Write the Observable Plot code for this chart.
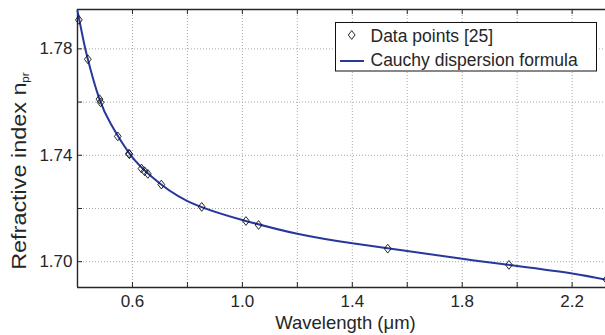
<!DOCTYPE html>
<html><head><meta charset="utf-8">
<script src="https://cdn.jsdelivr.net/npm/d3@7"></script>
<script src="https://cdn.jsdelivr.net/npm/@observablehq/plot@0.6"></script>
<style>
body{margin:0;background:#fff;}
#chart{position:relative;width:605px;height:335px;overflow:hidden;}
</style>
</head><body><div id="chart"></div>
<script>
// Data points (wavelength in µm, refractive index)
const pointWavelength = [0.405, 0.4375, 0.480, 0.484, 0.5465, 0.587, 0.589, 0.633, 0.644, 0.656, 0.705, 0.852, 1.013, 1.059, 1.529, 1.970, 2.325];
const pointIndex      = [1.7909, 1.7761, 1.7611, 1.7599, 1.7471, 1.7406, 1.7404, 1.7350, 1.7340, 1.7330, 1.7290, 1.7206, 1.7153, 1.7138, 1.7049, 1.6988, 1.6933];
// Cauchy dispersion curve
const curveWavelength = [0.400, 0.420, 0.436, 0.479, 0.520, 0.546, 0.594, 0.667, 0.80, 1.0, 1.2, 1.4, 1.6, 1.8, 2.0, 2.2, 2.33];
const curveIndex      = [1.7943, 1.7840, 1.7768, 1.7614, 1.7520, 1.7474, 1.7400, 1.7322, 1.7228, 1.7157, 1.7105, 1.7069, 1.7040, 1.7011, 1.6984, 1.6956, 1.6931];
// Ticks
const xTickLabels = [0.6, 1.0, 1.4, 1.8, 2.2];
const xGridTicks = [0.4, 0.6, 0.8, 1.0, 1.2, 1.4, 1.6, 1.8, 2.0, 2.2];
const yTickLabels = [1.70, 1.74, 1.78];
const yGridTicks = [1.70, 1.72, 1.74, 1.76, 1.78];
const xDomain = [0.4, 2.3214];
const yDomain = [1.6903, 1.7948];
const legendLabels = ["Data points [25]", "Cauchy dispersion formula"];
const xLabel = "Wavelength (\u03bcm)";
const yLabelMain = "Refractive index n";
const yLabelSub = "pr";

const points = pointWavelength.map((x, i) => ({x, y: pointIndex[i]}));
const curve = curveWavelength.map((x, i) => ({x, y: curveIndex[i]}));

const W = 605, H = 335, mL = 77, mR = 0, mT = 9, mB = 48;
const axisColor = "#262626";
const lineColor = "#27379b";
const font = "'Liberation Sans', Arial, Helvetica, sans-serif";

const diamond = {
  draw(ctx, size) {
    const r = Math.sqrt(size / Math.PI);
    const w = r * 0.85, h = r * 1.1;
    ctx.moveTo(0, -h); ctx.lineTo(w, 0); ctx.lineTo(0, h); ctx.lineTo(-w, 0); ctx.closePath();
  }
};

const frameW = W - mL - mR, frameH = H - mT - mB;
const gridStyle = {stroke: "#a8a8a8", strokeOpacity: 1, strokeWidth: 1, strokeDasharray: "1,2"};

const svg = Plot.plot({
  width: W, height: H,
  marginLeft: mL, marginRight: mR, marginTop: mT, marginBottom: mB,
  x: {domain: xDomain},
  y: {domain: yDomain},
  style: {fontFamily: font, fontSize: "17px", color: axisColor, background: "white", overflow: "hidden"},
  marks: [
    Plot.gridX(xGridTicks, gridStyle),
    Plot.gridY(yGridTicks, gridStyle),
    Plot.tickX(xGridTicks, {x: d => d, insetTop: frameH - 5, stroke: axisColor, strokeWidth: 1}),
    Plot.tickX(xGridTicks, {x: d => d, insetBottom: frameH - 5, stroke: axisColor, strokeWidth: 1}),
    Plot.tickY(yGridTicks, {y: d => d, insetRight: frameW - 5, stroke: axisColor, strokeWidth: 1}),
    Plot.ruleX([xDomain[0]], {stroke: axisColor, strokeWidth: 1.4}),
    Plot.ruleY([yDomain[0]], {stroke: axisColor, strokeWidth: 1.4}),
    Plot.ruleY([yDomain[1]], {stroke: axisColor, strokeWidth: 1.4}),
    Plot.axisX(xTickLabels, {tickSize: 0, tickPadding: 7, tickFormat: d => d.toFixed(1), fontSize: 17, label: null}),
    Plot.axisY(yTickLabels, {tickSize: 0, tickPadding: 5, tickFormat: d => d.toFixed(2), fontSize: 17, label: null}),
    Plot.line(curve, {x: "x", y: "y", curve: "natural", stroke: lineColor, strokeWidth: 2}),
    Plot.dot(points, {x: "x", y: "y", symbol: diamond, r: 4, stroke: "#111", strokeWidth: 0.9, fill: "none"})
  ]
});
document.getElementById("chart").appendChild(svg);

const s = d3.select(svg);
// x label
s.append("text").attr("x", 345.5).attr("y", 328.5).attr("text-anchor", "middle")
  .attr("font-family", font).attr("font-size", 18.5).attr("fill", axisColor).text(xLabel);
// y label
const yl = s.append("text").attr("transform", "translate(25.5,171) rotate(-90) scale(1.17,1)").attr("text-anchor", "middle")
  .attr("font-family", font).attr("font-size", 20).attr("fill", axisColor);
yl.append("tspan").text(yLabelMain);
yl.append("tspan").attr("font-size", 10).attr("dy", 3).text(yLabelSub);

// legend
const lg = s.append("g").attr("text-anchor", "start");
lg.append("rect").attr("x", 335.5).attr("y", 22.5).attr("width", 261).attr("height", 48.5)
  .attr("fill", "white").attr("stroke", "#111").attr("stroke-width", 1);
lg.append("path").attr("d", d3.symbol(diamond, Math.PI * 16)()).attr("transform", "translate(351.7,35)")
  .attr("fill", "none").attr("stroke", "#111").attr("stroke-width", 0.9);
lg.append("line").attr("x1", 340).attr("x2", 364).attr("y1", 61).attr("y2", 61)
  .attr("stroke", lineColor).attr("stroke-width", 2);
lg.append("text").attr("x", 370.5).attr("y", 41.5).attr("text-anchor", "start").attr("font-family", font).attr("font-size", 17.5)
  .attr("fill", axisColor).text(legendLabels[0]);
lg.append("text").attr("x", 370.5).attr("y", 65.5).attr("text-anchor", "start").attr("font-family", font).attr("font-size", 17.5)
  .attr("fill", axisColor).text(legendLabels[1]);
</script>
</body></html>
